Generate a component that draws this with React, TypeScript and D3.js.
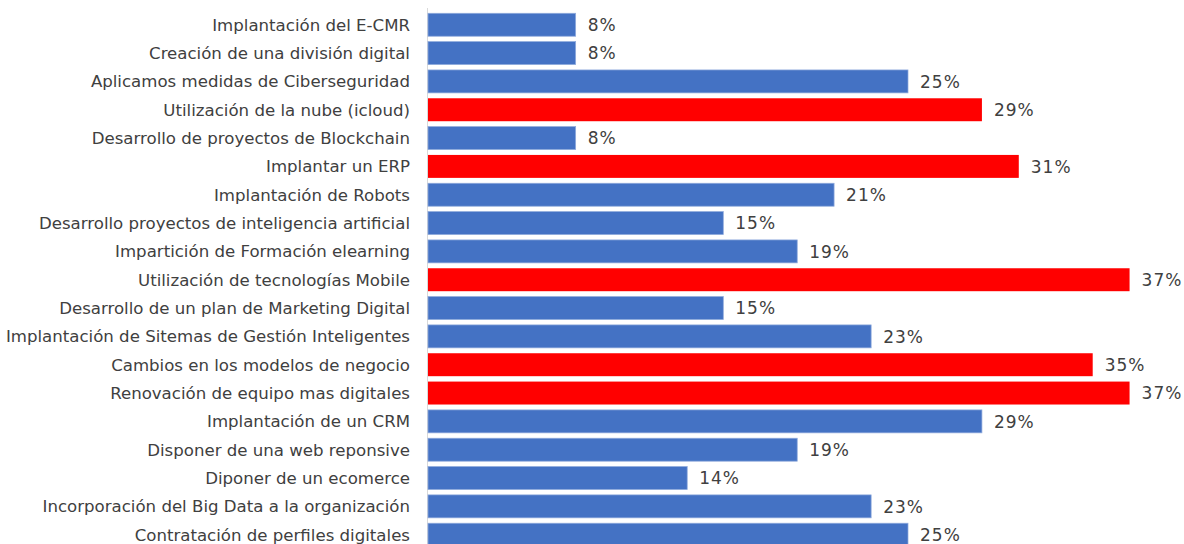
import React from "react";
import * as d3 from "d3";

const categories = [
  "Implantación del E-CMR",
  "Creación de una división digital",
  "Aplicamos medidas de Ciberseguridad",
  "Utilización de la nube (icloud)",
  "Desarrollo de proyectos de Blockchain",
  "Implantar un ERP",
  "Implantación de Robots",
  "Desarrollo proyectos de inteligencia artificial",
  "Impartición de Formación elearning",
  "Utilización de tecnologías Mobile",
  "Desarrollo de un plan de Marketing Digital ",
  "Implantación de Sitemas de Gestión Inteligentes",
  "Cambios en los modelos de negocio",
  "Renovación de equipo mas digitales",
  "Implantación de un CRM",
  "Disponer de una web reponsive ",
  "Diponer de un ecomerce",
  "Incorporación del Big Data a la organización",
  "Contratación de perfiles digitales",
];

const values = [
  7.69, 7.69, 25.0, 28.85, 7.69, 30.77, 21.15, 15.38, 19.23, 36.54,
  15.38, 23.08, 34.62, 36.54, 28.85, 19.23, 13.5, 23.08, 25.0,
];

const highlighted = [
  "Utilización de la nube (icloud)",
  "Implantar un ERP",
  "Utilización de tecnologías Mobile",
  "Cambios en los modelos de negocio",
  "Renovación de equipo mas digitales",
];

const W = 1184;
const H = 544;
const X0 = 428;

export default function App() {
  const x = d3.scaleLinear().domain([0, 40]).range([X0, X0 + 768]);
  const step = 28.33;
  const pad = 0.19;
  const y = d3
    .scaleBand<string>()
    .domain(categories)
    .range([7.9, 7.9 + step * (categories.length - pad + 2 * pad)])
    .paddingInner(pad)
    .paddingOuter(pad);
  const font = "'DejaVu Sans', Verdana, sans-serif";
  return (
    <svg
      width={W}
      height={H}
      style={{ position: "absolute", left: 0, top: 0, background: "#fff" }}
    >
      <line x1={X0 - 0.5} x2={X0 - 0.5} y1={8} y2={H} stroke="#d9d9d9" strokeWidth={1} />
      {categories.map((c, i) => {
        const yy = y(c)!;
        const bw = y.bandwidth();
        const hi = highlighted.includes(c);
        const xe = x(values[i]);
        return (
          <g key={c}>
            <rect
              x={X0}
              y={yy}
              width={xe - X0}
              height={bw}
              fill={hi ? "#FF0000" : "#4472C4"}
              stroke={hi ? "none" : "#8FAADC"}
              strokeWidth={hi ? 0 : 0.75}
            />
            <text
              x={410}
              y={yy + bw / 2}
              dy="0.35em"
              textAnchor="end"
              fontFamily={font}
              fontSize={16.6}
              fill="#404040"
            >
              {c}
            </text>
            <text
              x={xe + 12}
              y={yy + bw / 2}
              dy="0.37em"
              fontFamily={font}
              fontSize={17}
              letterSpacing={1}
              fill="#404040"
            >
              {d3.format(".0f")(values[i]) + "%"}
            </text>
          </g>
        );
      })}
    </svg>
  );
}
